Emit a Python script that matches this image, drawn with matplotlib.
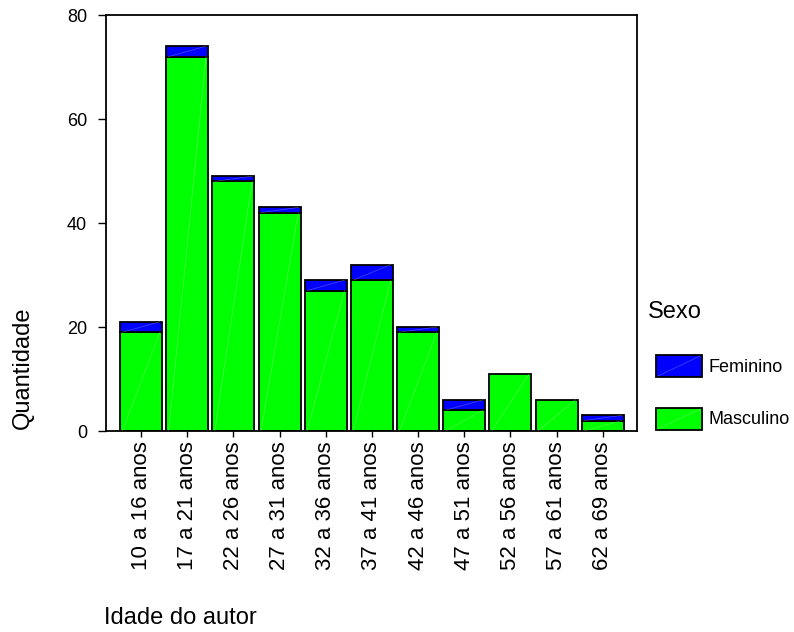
import matplotlib
matplotlib.use("Agg")
import matplotlib.pyplot as plt
from matplotlib.patches import Rectangle
from matplotlib.lines import Line2D
import numpy as np

plt.rcParams['font.family'] = ['Liberation Sans', 'DejaVu Sans']

categories = ["10 a 16 anos", "17 a 21 anos", "22 a 26 anos", "27 a 31 anos",
              "32 a 36 anos", "37 a 41 anos", "42 a 46 anos", "47 a 51 anos",
              "52 a 56 anos", "57 a 61 anos", "62 a 69 anos"]
masculino = [19, 72, 48, 42, 27, 29, 19, 4, 11, 6, 2]
feminino = [2, 2, 1, 1, 2, 3, 1, 2, 0, 0, 1]

green = "#00ff00"
blue = "#0000ff"

fig = plt.figure(figsize=(7.94, 6.32), dpi=100)
ax = fig.add_axes([106/794, 1-431/632, (637-106)/794, (431-15)/632])

x = np.arange(len(categories))
w = 0.91
bars_m = ax.bar(x, masculino, width=w, color=green, edgecolor="black", linewidth=1.3, zorder=2)
fem_x = [xi for xi, f in zip(x, feminino) if f > 0]
fem_v = [f for f in feminino if f > 0]
fem_b = [m for m, f in zip(masculino, feminino) if f > 0]
bars_f = ax.bar(fem_x, fem_v, bottom=fem_b, width=w, color=blue, edgecolor="black", linewidth=1.3, zorder=2)

# faint diagonal sheen lines (as in the original rendering)
for p in list(bars_m) + list(bars_f):
    x0, y0, bw, bh = p.get_x(), p.get_y(), p.get_width(), p.get_height()
    ax.plot([x0 + 0.05, x0 + bw - 0.05], [y0, y0 + bh], color="white", alpha=0.3, lw=0.5, zorder=3)

ax.set_xlim(-0.76, 10.74)
ax.set_ylim(0, 80)
ax.set_yticks([0, 20, 40, 60, 80])
ax.set_xticks(x)
ax.set_xticklabels(categories, rotation=90, fontsize=16)
ax.tick_params(axis='y', labelsize=13, direction='out', length=5.5, width=1, pad=8)
ax.tick_params(axis='x', direction='out', length=4.5, width=1, pad=3)
for s in ax.spines.values():
    s.set_linewidth(1.3)

fig.text(23/794, 1-368/632, "Quantidade", rotation=90, ha="center", va="center", fontsize=17)
fig.text(104/794, 1-618/632, "Idade do autor", ha="left", va="center", fontsize=17)

# legend
fig.text(648/794, 1-312/632, "Sexo", ha="left", va="center", fontsize=17)
for (y_top, col, lab) in [(355, blue, "Feminino"), (408, green, "Masculino")]:
    fig.patches.append(Rectangle((656/794, 1-(y_top+22)/632), 46/794, 22/632, transform=fig.transFigure,
                                 facecolor=col, edgecolor="black", linewidth=1.3))
    fig.lines.append(Line2D([658/794, 700/794], [1-(y_top+21)/632, 1-(y_top+1)/632], transform=fig.transFigure,
                            color="white", alpha=0.3, lw=0.5))
    fig.text(708/794, 1-(y_top+12)/632, lab, ha="left", va="center", fontsize=13)

fig.savefig("out.png", dpi=100)
